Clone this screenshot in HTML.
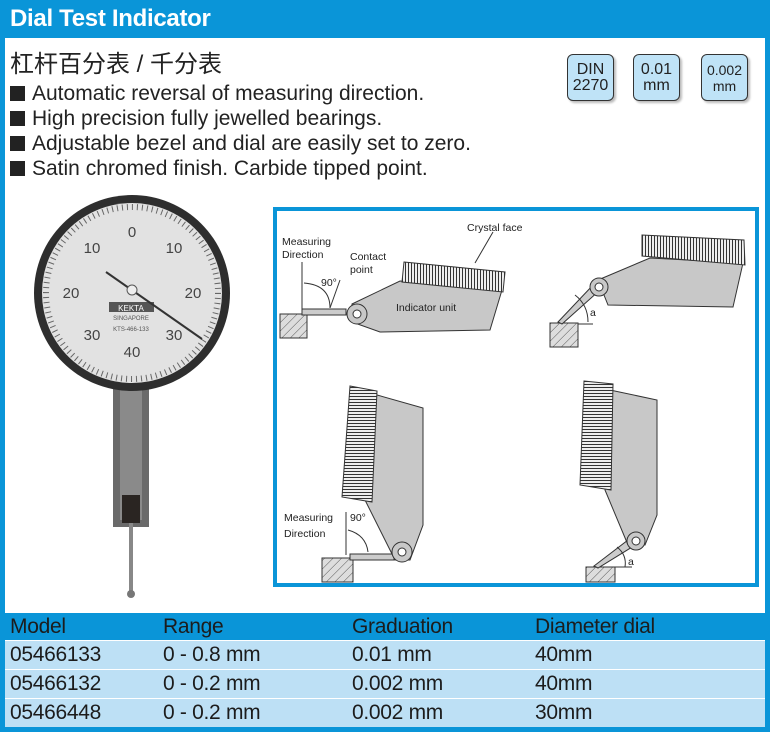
<!DOCTYPE html>
<html><head><meta charset="utf-8"><style>
*{margin:0;padding:0;box-sizing:border-box}
body{width:770px;height:732px;background:#fff;position:relative;overflow:hidden;font-family:"Liberation Sans",Arial,sans-serif;color:#1a1a1a}
.frame{position:absolute;left:0;top:0;width:770px;height:732px;border-left:5px solid #0a95d8;border-right:5px solid #0a95d8;border-bottom:5px solid #0a95d8}
.hdr{position:absolute;left:0;top:0;width:770px;height:38px;background:#0a95d8;color:#fff;font-weight:bold;font-size:24px;padding:5px 0 0 10px;letter-spacing:-0.3px}
.cn{position:absolute;left:10px;top:44px;font-size:24px;font-family:"Liberation Sans","Noto Sans CJK SC",sans-serif;color:#222}
.bul{position:absolute;left:10px;font-size:21px;color:#222;letter-spacing:0px}
.bul span{display:inline-block;width:15px;height:15px;background:#222;margin-right:7px;vertical-align:-1px}
.bd{position:absolute;top:54px;width:47px;height:47px;background:#bfe3f7;border:1.5px solid #333;border-radius:6px;box-shadow:2px 2px 2px #bbb;text-align:center;font-size:16px;line-height:16px;padding-top:7px;color:#222}
.tbl{position:absolute;left:5px;top:613px;width:760px}
.row{height:29px;font-size:21px;color:#1c1c1c;position:relative;background:#bde0f5;border-top:1px solid #fff}
.row.h{background:#0a95d8;border-top:none;height:27px}
.row div{position:absolute;top:2px;letter-spacing:-0.3px}
</style></head><body>
<div class="frame"></div>
<div class="hdr">Dial Test Indicator</div>
<div class="cn">杠杆百分表 / 千分表</div>
<div class="bul" style="top:82px"><span></span>Automatic reversal of measuring direction.</div>
<div class="bul" style="top:107px"><span></span>High precision fully jewelled bearings.</div>
<div class="bul" style="top:132px"><span></span>Adjustable bezel and dial are easily set to zero.</div>
<div class="bul" style="top:157px"><span></span>Satin chromed finish. Carbide tipped point.</div>
<div class="bd" style="left:567px">DIN<br>2270</div>
<div class="bd" style="left:633px">0.01<br>mm</div>
<div class="bd" style="left:701px;font-size:14px">0.002<br>mm</div>

<svg style="position:absolute;left:0;top:0" width="770" height="732" font-family="Liberation Sans, Arial, sans-serif">
<defs><pattern id="ht" width="6" height="6" patternUnits="userSpaceOnUse" patternTransform="rotate(45)"><rect width="6" height="6" fill="#ddd"/><line x1="0" y1="0" x2="0" y2="6" stroke="#555" stroke-width="1"/></pattern>
<pattern id="kn" width="3" height="10" patternUnits="userSpaceOnUse"><rect width="3" height="10" fill="#eee"/><line x1="0.5" y1="0" x2="0.5" y2="10" stroke="#333" stroke-width="1"/></pattern>
<pattern id="kn2" width="10" height="3" patternUnits="userSpaceOnUse"><rect width="10" height="3" fill="#eee"/><line x1="0" y1="0.5" x2="10" y2="0.5" stroke="#333" stroke-width="1"/></pattern></defs>
<rect x="113" y="380" width="36" height="147" fill="#6a6a6a"/>
<rect x="120" y="385" width="22" height="135" fill="#8a8a8a"/>
<rect x="122" y="495" width="18" height="28" fill="#2a2522"/>
<line x1="131" y1="523" x2="131" y2="592" stroke="#888" stroke-width="4"/>
<circle cx="131" cy="594" r="4" fill="#777"/>
<circle cx="132" cy="293" r="98" fill="#2e2e2e"/>
<circle cx="132" cy="293" r="90" fill="#e2e2e2"/>
<circle cx="132" cy="293" r="86" fill="none" stroke="#666" stroke-width="6" stroke-dasharray="1 4"/>
<g font-size="15" fill="#444" text-anchor="middle">
<text x="132" y="237">0</text><text x="92" y="253">10</text><text x="174" y="253">10</text>
<text x="71" y="298">20</text><text x="193" y="298">20</text><text x="92" y="340">30</text><text x="174" y="340">30</text><text x="132" y="357">40</text></g>
<rect x="109" y="302" width="45" height="10" fill="#555"/><text x="131" y="311" font-size="8" fill="#fff" text-anchor="middle">KEKTA</text>
<text x="131" y="320" font-size="6" fill="#555" text-anchor="middle">SINGAPORE</text><text x="131" y="331" font-size="6" fill="#555" text-anchor="middle">KTS-466-133</text>
<line x1="106" y1="272" x2="202" y2="339" stroke="#333" stroke-width="2"/><circle cx="132" cy="290" r="5" fill="#eee" stroke="#555"/>
<rect x="275" y="209" width="482" height="376" fill="#fff" stroke="#0a95d8" stroke-width="4"/>
<g stroke="#333" stroke-width="1" font-size="10.5" fill="#222">
<rect x="280" y="314" width="27" height="24" fill="url(#ht)"/>
<rect x="302" y="309" width="44" height="6" fill="#ccc"/>
<polygon points="352,304 400,281 502,290 490,330 380,332 352,322" fill="#c8c8c8"/>
<polygon points="404,262 505,272 503,292 402,282" fill="url(#kn)"/>
<circle cx="357" cy="314" r="10" fill="#c8c8c8"/><circle cx="357" cy="314" r="4" fill="#fff"/>
<line x1="302" y1="262" x2="302" y2="309"/>
<path d="M304,283 Q330,285 330,308" fill="none"/>
<line x1="340" y1="280" x2="330" y2="308"/><line x1="493" y1="232" x2="475" y2="263"/>
<text x="282" y="245" stroke="none">Measuring</text><text x="282" y="258" stroke="none">Direction</text>
<text x="350" y="260" stroke="none">Contact</text><text x="350" y="273" stroke="none">point</text>
<text x="321" y="286" stroke="none">90°</text><text x="467" y="231" stroke="none">Crystal face</text>
<text x="396" y="311" stroke="none">Indicator unit</text>
<rect x="550" y="323" width="28" height="24" fill="url(#ht)"/>
<polygon points="558,322 594,284 600,290 562,324" fill="#ccc"/>
<polygon points="598,280 650,258 743,263 733,307 608,305" fill="#c8c8c8"/>
<polygon points="642,235 744,240 745,265 642,256" fill="url(#kn)"/>
<circle cx="599" cy="287" r="9" fill="#c8c8c8"/><circle cx="599" cy="287" r="4" fill="#fff"/>
<line x1="578" y1="324" x2="593" y2="324"/><path d="M575,295 Q588,305 588,322" fill="none"/>
<text x="590" y="316" stroke="none">a</text>
<rect x="322" y="558" width="31" height="24" fill="url(#ht)"/>
<rect x="350" y="554" width="44" height="6" fill="#ccc"/>
<polygon points="370,393 423,408 423,525 410,560 395,560 365,500" fill="#c8c8c8"/>
<polygon points="350,386 377,391 372,502 342,497" fill="url(#kn2)"/>
<circle cx="402" cy="552" r="10" fill="#c8c8c8"/><circle cx="402" cy="552" r="4" fill="#fff"/>
<line x1="346" y1="512" x2="346" y2="555"/><path d="M348,530 Q366,535 368,552" fill="none"/>
<text x="284" y="521" stroke="none">Measuring</text><text x="284" y="537" stroke="none">Direction</text><text x="350" y="521" stroke="none">90°</text>
<rect x="586" y="567" width="29" height="15" fill="url(#ht)"/>
<polygon points="594,566 632,537 637,544 598,568" fill="#ccc"/>
<polygon points="610,390 657,400 657,515 645,545 628,545 605,490" fill="#c8c8c8"/>
<polygon points="584,381 613,384 611,490 580,485" fill="url(#kn2)"/>
<circle cx="636" cy="541" r="9" fill="#c8c8c8"/><circle cx="636" cy="541" r="4" fill="#fff"/>
<line x1="615" y1="567" x2="632" y2="567"/><path d="M617,547 Q627,555 625,567" fill="none"/>
<text x="628" y="565" stroke="none">a</text>
</g>
</svg>

<div class="tbl">
<div class="row h"><div style="left:5px">Model</div><div style="left:158px">Range</div><div style="left:347px">Graduation</div><div style="left:530px">Diameter dial</div></div>
<div class="row"><div style="left:5px">05466133</div><div style="left:158px">0 - 0.8 mm</div><div style="left:347px">0.01 mm</div><div style="left:530px">40mm</div></div>
<div class="row"><div style="left:5px">05466132</div><div style="left:158px">0 - 0.2 mm</div><div style="left:347px">0.002 mm</div><div style="left:530px">40mm</div></div>
<div class="row"><div style="left:5px">05466448</div><div style="left:158px">0 - 0.2 mm</div><div style="left:347px">0.002 mm</div><div style="left:530px">30mm</div></div>
</div>
</body></html>
